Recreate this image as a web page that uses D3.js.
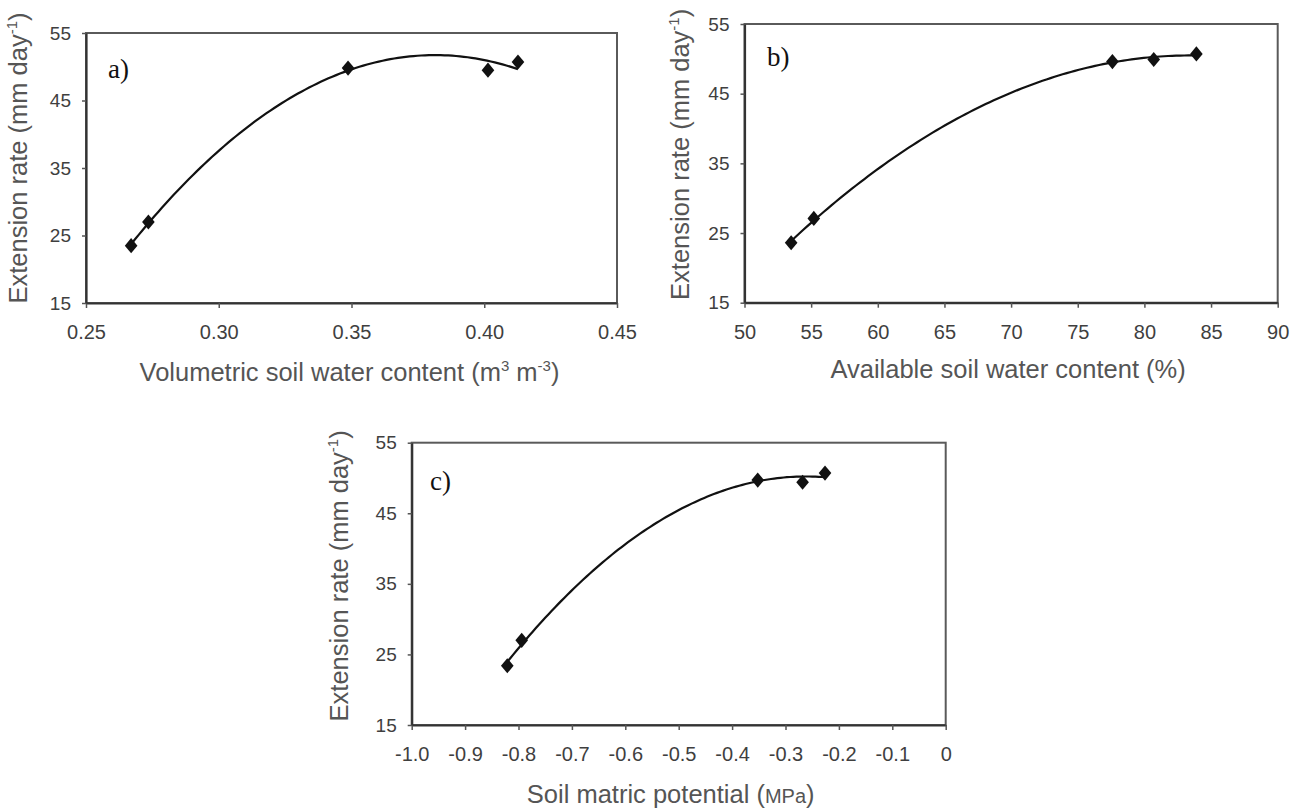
<!DOCTYPE html>
<html>
<head>
<meta charset="utf-8">
<script src="https://cdn.jsdelivr.net/npm/d3@7"></script>
<style>
  body { margin: 0; background: #fff; }
  text { font-family: "Liberation Sans", Arial, sans-serif; }
</style>
</head>
<body>
<script>
//values (x values and extension rate in mm/day)
const volumetricWC = [0.267, 0.2735, 0.3487, 0.4014, 0.4127]
const rateA = [23.5, 27.0, 49.8, 49.5, 50.7]

const availableWC = [53.5, 55.2, 77.6, 80.7, 83.9]
const rateB = [23.6, 27.1, 49.6, 49.9, 50.7]

const matricPotential = [-0.821, -0.794, -0.352, -0.268, -0.226]
const rateC = [23.4, 27.0, 49.7, 49.4, 50.7]

//tick labels as printed
const ticksA = ['0.25', '0.30', '0.35', '0.40', '0.45']
const ticksB = ['50', '55', '60', '65', '70', '75', '80', '85', '90']
const ticksC = ['-1.0', '-0.9', '-0.8', '-0.7', '-0.6', '-0.5', '-0.4', '-0.3', '-0.2', '-0.1', '0']
const yTicks = ['15', '25', '35', '45', '55']

//panel layout, one entry per chart
const panels = [
  { letter: 'a)', xs: volumetricWC, ys: rateA, ticks: ticksA,
    left: 86, right: 617, top: 33, bottom: 303,
    letterPos: [108, 78], yLabelX: 27, yLabelShift: -10, xLabelY: 381, xLabelShift: -2,
    xLabel: [['Volumetric soil water content (m', 0], ['3', 1], [' m', 0], ['-3', 1], [')', 0]] },
  { letter: 'b)', xs: availableWC, ys: rateB, ticks: ticksB,
    left: 744.5, right: 1277.7, top: 24, bottom: 302.7,
    letterPos: [767, 66], yLabelX: 689, yLabelShift: -9, xLabelY: 378, xLabelShift: -3,
    xLabel: [['Available soil water content (%)', 0]] },
  { letter: 'c)', xs: matricPotential, ys: rateC, ticks: ticksC,
    left: 411.7, right: 945.7, top: 442.7, bottom: 725,
    letterPos: [430, 490], yLabelX: 348, yLabelShift: -8, xLabelY: 803, xLabelShift: -8,
    xLabel: [['Soil matric potential (', 0], ['MPa', 2], [')', 0]] }
]

//least squares quadratic, same as a spreadsheet polynomial trendline
function quadFit(xs, ys) {
  const mx = d3.mean(xs)
  const u = xs.map(x => x - mx)
  const s = k => d3.sum(u, v => Math.pow(v, k))
  const t = k => d3.sum(u, (v, i) => Math.pow(v, k) * ys[i])
  const A = [[s(4), s(3), s(2)], [s(3), s(2), s(1)], [s(2), s(1), u.length]]
  const b = [t(2), t(1), t(0)]
  //gaussian elimination
  for (let i = 0; i < 3; i++) {
    for (let j = i + 1; j < 3; j++) {
      const f = A[j][i] / A[i][i]
      for (let k = i; k < 3; k++) A[j][k] -= f * A[i][k]
      b[j] -= f * b[i]
    }
  }
  const c = [0, 0, 0]
  for (let i = 2; i >= 0; i--) {
    let v = b[i]
    for (let k = i + 1; k < 3; k++) v -= A[i][k] * c[k]
    c[i] = v / A[i][i]
  }
  return x => c[0] * (x - mx) * (x - mx) + c[1] * (x - mx) + c[2]
}

const svg = d3.select('body')
  .append('svg')
    .attr('width', 1304)
    .attr('height', 808)

panels.forEach(p => {
  const tickNums = p.ticks.map(Number)

  const xScale = d3.scaleLinear()
    .domain(d3.extent(tickNums))
    .range([p.left, p.right])

  const yScale = d3.scaleLinear()
    .domain([15, 55])
    .range([p.bottom, p.top])

  const g = svg.append('g')

  //frame round the plot area
  g.append('rect')
    .attr('x', p.left)
    .attr('y', p.top)
    .attr('width', p.right - p.left)
    .attr('height', p.bottom - p.top)
    .attr('fill', 'none')
    .attr('stroke', '#5a5a5a')
    .attr('stroke-width', 2)

  //x axis
  const xAxis = d3.axisBottom(xScale)
    .tickValues(tickNums)
    .tickFormat((d, i) => p.ticks[i])
    .tickSizeInner(5)
    .tickSizeOuter(0)
    .tickPadding(17)

  const gx = g.append('g').call(xAxis)
    .attr('transform', `translate(0,${p.bottom})`)
  gx.select('.domain').attr('stroke', '#333').attr('stroke-width', 2.2)
  gx.selectAll('.tick line').attr('stroke', '#555').attr('stroke-width', 1.5)
  gx.selectAll('text')
    .attr('fill', '#3f3f3f')
    .style('font-size', '20px')
    .style('font-family', '"Liberation Sans", Arial, sans-serif')

  //y axis
  const yAxis = d3.axisLeft(yScale)
    .tickValues(yTicks.map(Number))
    .tickFormat((d, i) => yTicks[i])
    .tickSizeInner(4)
    .tickSizeOuter(0)
    .tickPadding(11)

  const gy = g.append('g').call(yAxis)
    .attr('transform', `translate(${p.left},0)`)
  gy.select('.domain').attr('stroke', '#333').attr('stroke-width', 2.2)
  gy.selectAll('.tick line').attr('stroke', '#555').attr('stroke-width', 1.5)
  gy.selectAll('text')
    .attr('fill', '#3f3f3f')
    .style('font-size', '19px')
    .style('font-family', '"Liberation Sans", Arial, sans-serif')

  //fitted trend curve between first and last point
  const fit = quadFit(p.xs, p.ys)
  const [x0, x1] = d3.extent(p.xs)
  const curve = d3.range(0, 101).map(i => x0 + (x1 - x0) * i / 100)

  const line = d3.line()
    .x(d => xScale(d))
    .y(d => yScale(fit(d)))

  g.append('path')
    .datum(curve)
    .attr('d', line)
    .attr('fill', 'none')
    .attr('stroke', '#111')
    .attr('stroke-width', 2.2)

  //diamond markers, a little taller than wide
  const symbol = d3.symbol().type(d3.symbolSquare).size(80)
  g.selectAll('.pt')
    .data(p.xs.map((x, i) => [x, p.ys[i]]))
    .enter()
    .append('path')
      .attr('class', 'pt')
      .attr('d', symbol)
      .attr('transform', d => `translate(${xScale(d[0])},${yScale(d[1])}) scale(1,1.2) rotate(45)`)
      .attr('fill', '#111')

  //panel letter
  g.append('text')
    .text(p.letter)
      .attr('x', p.letterPos[0])
      .attr('y', p.letterPos[1])
      .style('font-family', '"Liberation Serif", "DejaVu Serif", serif')
      .style('font-size', '27px')
      .attr('fill', '#111')

  //y axis title
  const yl = g.append('text')
    .attr('text-anchor', 'middle')
    .attr('transform', `translate(${p.yLabelX},${(p.top + p.bottom) / 2 + p.yLabelShift}) rotate(-90)`)
    .style('font-size', '25.5px')
    .attr('fill', '#555')
  yl.append('tspan').text('Extension rate (mm day')
  yl.append('tspan').text('-1').style('font-size', '15px').attr('dy', -10)
  yl.append('tspan').text(')').attr('dy', 10)

  //x axis title
  const xl = g.append('text')
    .attr('text-anchor', 'middle')
    .attr('x', (p.left + p.right) / 2 + p.xLabelShift)
    .attr('y', p.xLabelY)
    .style('font-size', '25.5px')
    .attr('fill', '#555')
  let lifted = false
  p.xLabel.forEach(([t, kind]) => {
    const ts = xl.append('tspan').text(t)
    if (kind === 1) {
      ts.style('font-size', '15px').attr('dy', lifted ? 0 : -10)
      lifted = true
    } else {
      if (kind === 2) ts.style('font-size', '20px')
      if (lifted) ts.attr('dy', 10)
      lifted = false
    }
  })
})
</script>
</body>
</html>
